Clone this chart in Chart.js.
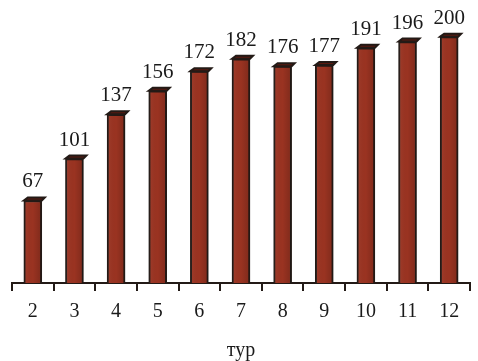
<!DOCTYPE html>
<html lang="ru">
<head>
  <meta charset="UTF-8" />
  <title>тур</title>
  <script src="https://cdn.jsdelivr.net/npm/chart.js"></script>
  <style>
    body { margin: 0; background: #fff; }
    #wrap { width: 478px; height: 361px; }
  </style>
</head>
<body>
  <div id="wrap"><canvas id="grafico"></canvas></div>
  <script>
    const tury = ['2', '3', '4', '5', '6', '7', '8', '9', '10', '11', '12'];
    const ochki = [67, 101, 137, 156, 172, 182, 176, 177, 191, 196, 200];

    const serif = '"Liberation Serif", "DejaVu Serif", serif';

    // подписи над столбиками и "крышки" для объёма
    const kryshki = {
      id: 'kryshki',
      afterDatasetsDraw(chart) {
        const ctx = chart.ctx;
        const meta = chart.getDatasetMeta(0);
        ctx.save();
        meta.data.forEach((bar, i) => {
          const { x, y, width, base } = bar.getProps(['x', 'y', 'width', 'base'], true);
          const l = x - width / 2, r = x + width / 2;
          // затемнение правой стороны
          const g = ctx.createLinearGradient(l, 0, r, 0);
          g.addColorStop(0, 'rgba(255,255,255,0.06)');
          g.addColorStop(0.5, 'rgba(0,0,0,0)');
          g.addColorStop(1, 'rgba(0,0,0,0.18)');
          ctx.fillStyle = g;
          ctx.fillRect(l + 1, y + 1, width - 2, base - y - 1);
          ctx.beginPath();
          ctx.moveTo(l, y);
          ctx.lineTo(l + 4, y - 3);
          ctx.lineTo(r + 3, y - 3);
          ctx.lineTo(r, y);
          ctx.closePath();
          ctx.fillStyle = '#5a1a10';
          ctx.fill();
          ctx.lineWidth = 2;
          ctx.strokeStyle = '#231a16';
          ctx.stroke();
          ctx.fillStyle = '#1a1a1a';
          ctx.font = '21px ' + serif;
          ctx.textAlign = 'center';
          ctx.textBaseline = 'bottom';
          ctx.fillText(ochki[i], x, y - 8);
        });
        ctx.restore();
      }
    };

    new Chart(document.getElementById('grafico'), {
      type: 'bar',
      data: {
        labels: tury,
        datasets: [{
          data: ochki,
          backgroundColor: '#9a3321',
          borderColor: '#231a16',
          borderWidth: 2,
          borderSkipped: 'bottom',
          barThickness: 18
        }]
      },
      options: {
        responsive: true,
        maintainAspectRatio: false,
        animation: false,
        layout: { padding: { left: 12, right: 8, top: 12, bottom: 0 } },
        plugins: { legend: { display: false }, tooltip: { enabled: false } },
        scales: {
          y: { display: false, min: 0, max: 220 },
          x: {
            border: { display: true, color: '#231a16', width: 2 },
            grid: { drawOnChartArea: false, drawTicks: true, tickLength: 8, color: '#231a16', lineWidth: 2 },
            ticks: { color: '#1a1a1a', font: { family: serif, size: 20, lineHeight: 1 }, padding: 11 },
            title: { display: true, text: 'тур', color: '#1a1a1a', font: { family: serif, size: 20, lineHeight: 1 }, padding: { top: 8, bottom: 0 } }
          }
        }
      },
      plugins: [kryshki]
    });
  </script>
</body>
</html>
